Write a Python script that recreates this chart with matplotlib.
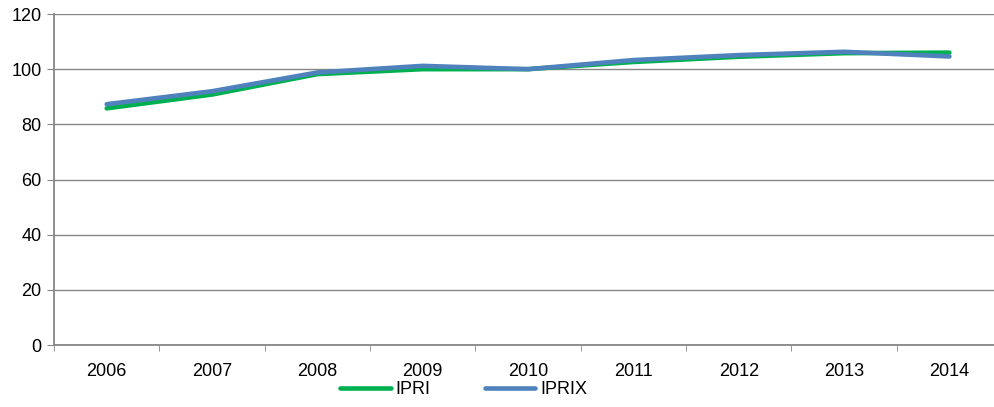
import matplotlib.pyplot as plt

plt.rcParams['font.family'] = ['Liberation Sans', 'DejaVu Sans']

years = ['2006', '2007', '2008', '2009', '2010', '2011', '2012', '2013', '2014']
ipri = [85.8, 90.8, 98.2, 100.0, 100.0, 102.6, 104.5, 105.8, 106.0]
iprix = [87.3, 92.0, 98.8, 101.2, 100.0, 103.3, 105.1, 106.3, 104.6]

fig = plt.figure(figsize=(9.95, 4.07), dpi=100)
# the plot area runs a little past the right edge of the image
ax = fig.add_axes([0.0543, 0.1523, 0.9528, 0.8133])

x = range(len(years))
ax.plot(x, ipri, color='#00B050', lw=3.3, label='IPRI', solid_capstyle='round')
ax.plot(x, iprix, color='#4F81BD', lw=3.3, label='IPRIX', solid_capstyle='round')

ax.set_xlim(-0.5, len(years) - 0.5)
ax.set_ylim(0, 120)
ax.set_yticks(range(0, 121, 20))
ax.set_xticks(list(x))
ax.set_xticklabels(years)
# category boundaries get the tick marks
ax.set_xticks([i - 0.5 for i in range(len(years) + 1)], minor=True)
ax.tick_params(axis='x', which='major', length=0, pad=13, labelsize=13)
ax.tick_params(axis='x', which='minor', length=4, color='#868686', direction='out')
ax.tick_params(axis='y', length=5, color='#868686', labelsize=13, pad=4)

ax.grid(axis='y', color='#868686', lw=1)
for s in ['top', 'right']:
    ax.spines[s].set_visible(False)
for s in ['left', 'bottom']:
    ax.spines[s].set_color('#868686')
    ax.spines[s].set_linewidth(1.3)
ax.set_axisbelow(True)

fig.legend(loc='center', bbox_to_anchor=(0.466, 0.042), ncol=2, frameon=False,
           fontsize=13, handlelength=2.8, handletextpad=0.28, columnspacing=3.0,
           borderpad=0)

fig.savefig('out.png', dpi=100)
